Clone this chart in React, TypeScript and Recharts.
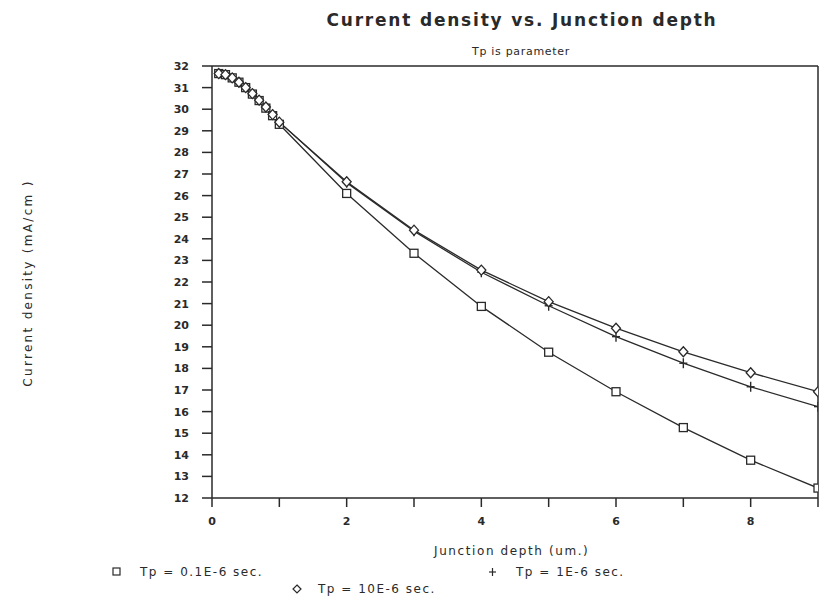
import React from "react";
import { LineChart, Line, XAxis, YAxis, ReferenceLine } from "recharts";

const depth = [0.1, 0.2, 0.3, 0.4, 0.5, 0.6, 0.7, 0.8, 0.9, 1.0, 2, 3, 4, 5, 6, 7, 8, 9];
const tp01 = [31.65, 31.6, 31.45, 31.25, 31.0, 30.7, 30.4, 30.05, 29.7, 29.3, 26.1, 23.33, 20.87, 18.75, 16.92, 15.26, 13.75, 12.46];
const tp1 = [31.65, 31.6, 31.45, 31.25, 31.0, 30.72, 30.42, 30.1, 29.75, 29.4, 26.6, 24.35, 22.45, 20.9, 19.47, 18.24, 17.15, 16.23];
const tp10 = [31.65, 31.6, 31.45, 31.25, 31.0, 30.72, 30.42, 30.1, 29.75, 29.4, 26.64, 24.4, 22.55, 21.09, 19.86, 18.77, 17.8, 16.92];

const xTicks = [0, 1, 2, 3, 4, 5, 6, 7, 8, 9];
const yTicks = [12, 13, 14, 15, 16, 17, 18, 19, 20, 21, 22, 23, 24, 25, 26, 27, 28, 29, 30, 31, 32];

const data = depth.map((d, i) => ({ x: d, a: tp01[i], b: tp1[i], c: tp10[i] }));

const INK = "#2a2a2a";
const FONT = "'DejaVu Sans', sans-serif";

const SquareDot = (p: any) => {
  const { cx, cy } = p;
  if (cx == null || cy == null) return null;
  return <rect x={cx - 4} y={cy - 4} width={8} height={8} fill="#fff" stroke={INK} strokeWidth={1.3} />;
};
const PlusDot = (p: any) => {
  const { cx, cy } = p;
  if (cx == null || cy == null) return null;
  return (
    <g stroke={INK} strokeWidth={1.4}>
      <line x1={cx - 4} y1={cy} x2={cx + 4} y2={cy} />
      <line x1={cx} y1={cy - 5} x2={cx} y2={cy + 5} />
    </g>
  );
};
const DiamondDot = (p: any) => {
  const { cx, cy } = p;
  if (cx == null || cy == null) return null;
  return (
    <polygon
      points={`${cx},${cy - 5} ${cx + 4.5},${cy} ${cx},${cy + 5} ${cx - 4.5},${cy}`}
      fill="#fff"
      stroke={INK}
      strokeWidth={1.3}
    />
  );
};

const txt: React.CSSProperties = {
  position: "absolute",
  fontFamily: FONT,
  color: INK,
  whiteSpace: "nowrap",
  lineHeight: 1,
};

export default function App() {
  return (
    <div style={{ position: "absolute", left: 0, top: 0, width: 821, height: 597, background: "#fff" }}>
      <LineChart
        width={821}
        height={597}
        data={data}
        margin={{ top: 66, right: 3, bottom: 0, left: 0 }}
      >
        <XAxis
          dataKey="x"
          type="number"
          domain={[0, 9]}
          ticks={xTicks}
          tickFormatter={(v: number) => (v % 2 === 0 ? String(v) : "")}
          tickSize={9}
          tickMargin={10}
          stroke={INK}
          strokeWidth={1.5}
          tick={{ fill: INK, fontSize: 11, fontFamily: FONT, fontWeight: "bold" }}
          height={99}
          allowDataOverflow
        />
        <YAxis
          type="number"
          domain={[12, 32]}
          ticks={yTicks}
          interval={0}
          tickSize={10}
          tickMargin={13}
          width={212}
          stroke={INK}
          strokeWidth={1.5}
          tick={{ fill: INK, fontSize: 11, fontFamily: FONT, fontWeight: "bold" }}
          allowDataOverflow
        />
        <ReferenceLine y={32} stroke={INK} strokeWidth={1.5} />
        <ReferenceLine x={9} stroke={INK} strokeWidth={1.5} />
        <Line dataKey="a" stroke={INK} strokeWidth={1.3} dot={<SquareDot />} isAnimationActive={false} />
        <Line dataKey="b" stroke={INK} strokeWidth={1.3} dot={<PlusDot />} isAnimationActive={false} />
        <Line dataKey="c" stroke={INK} strokeWidth={1.3} dot={<DiamondDot />} isAnimationActive={false} />
      </LineChart>

      <div style={{ ...txt, left: 522, top: 12, fontSize: 17, fontWeight: "bold", letterSpacing: 1.8, transform: "translateX(-50%)" }}>
        Current density vs. Junction depth
      </div>
      <div style={{ ...txt, left: 521, top: 46, fontSize: 11, letterSpacing: 0.7, transform: "translateX(-50%)" }}>
        Tp is parameter
      </div>
      <div
        style={{
          ...txt,
          left: 28,
          top: 283,
          fontSize: 12,
          letterSpacing: 2.3,
          transform: "translate(-50%, -50%) rotate(-90deg)",
        }}
      >
        Current density (mA/cm )
      </div>
      <div style={{ ...txt, left: 434, top: 545, fontSize: 12, letterSpacing: 1.6 }}>Junction depth (um.)</div>

      <div style={{ ...txt, left: 112, top: 566, fontSize: 12, letterSpacing: 1.5, display: "flex", alignItems: "center" }}>
        <svg width={10} height={10} style={{ marginRight: 18 }}>
          <rect x={1} y={1} width={7} height={7} fill="#fff" stroke={INK} strokeWidth={1.2} />
        </svg>
        Tp = 0.1E-6 sec.
      </div>
      <div style={{ ...txt, left: 488, top: 566, fontSize: 12, letterSpacing: 1.5, display: "flex", alignItems: "center" }}>
        <svg width={10} height={10} style={{ marginRight: 18 }}>
          <line x1={1} y1={5} x2={8} y2={5} stroke={INK} strokeWidth={1.2} />
          <line x1={4.5} y1={1} x2={4.5} y2={9} stroke={INK} strokeWidth={1.2} />
        </svg>
        Tp = 1E-6 sec.
      </div>
      <div style={{ ...txt, left: 292, top: 583, fontSize: 12, letterSpacing: 1.5, display: "flex", alignItems: "center" }}>
        <svg width={10} height={10} style={{ marginRight: 16 }}>
          <polygon points="5,1 9,5 5,9 1,5" fill="#fff" stroke={INK} strokeWidth={1.2} />
        </svg>
        Tp = 10E-6 sec.
      </div>
    </div>
  );
}
